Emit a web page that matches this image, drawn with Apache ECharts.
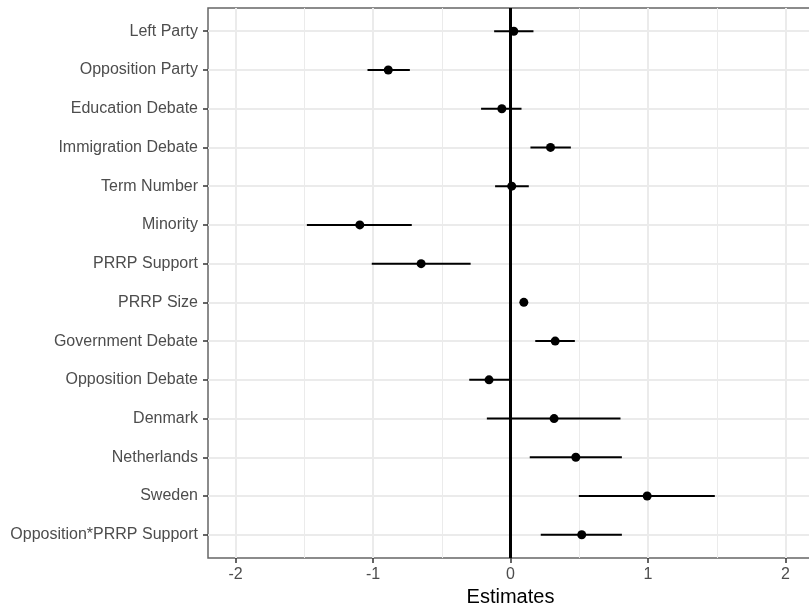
<!DOCTYPE html>
<html>
<head>
<meta charset="utf-8">
<script src="https://cdn.jsdelivr.net/npm/echarts@6/dist/echarts.min.js"></script>
<style>
html,body{margin:0;padding:0;background:#fff;}
#chart{width:809px;height:607px;}
</style>
</head>
<body>
<div id="chart"></div>
<script>
const categories = [
  'Left Party', 'Opposition Party', 'Education Debate', 'Immigration Debate',
  'Term Number', 'Minority', 'PRRP Support', 'PRRP Size', 'Government Debate',
  'Opposition Debate', 'Denmark', 'Netherlands', 'Sweden', 'Opposition*PRRP Support'
];
const estimates = [0.024, -0.889, -0.063, 0.291, 0.009, -1.096, -0.650, 0.097, 0.325, -0.156, 0.317, 0.475, 0.994, 0.518];
const lower =     [-0.119, -1.040, -0.214, 0.145, -0.112, -1.481, -1.009, 0.080, 0.180, -0.300, -0.172, 0.140, 0.497, 0.220];
const upper =     [0.167, -0.732, 0.080, 0.439, 0.133, -0.718, -0.290, 0.114, 0.468, -0.007, 0.800, 0.810, 1.486, 0.810];
const xTicks = [-2, -1, 0, 1, 2];
const xMinor = [-1.5, -0.5, 0.5, 1.5];
const xTitle = 'Estimates';

const rowIdx = categories.map((c, i) => i);
const FONT = '"Liberation Sans", Arial, sans-serif';

const chart = echarts.init(document.getElementById('chart'), null, {renderer: 'canvas'});
chart.setOption({
  animation: false,
  backgroundColor: '#ffffff',
  grid: {
    left: 208, right: -4, top: 8, bottom: 49,
    outerBoundsMode: 'none', containLabel: false,
    show: true, borderColor: '#666666', borderWidth: 1.5, backgroundColor: 'transparent'
  },
  xAxis: {
    type: 'value', min: -2.2, max: 2.2,
    name: xTitle, nameLocation: 'middle', nameGap: 28,
    nameTextStyle: {fontSize: 20, color: '#000000', fontFamily: FONT},
    axisLine: {show: false, onZero: false},
    axisTick: {show: true, length: 5, customValues: xTicks, lineStyle: {color: '#333333', width: 1.5}},
    axisLabel: {customValues: xTicks, fontSize: 16, color: '#4D4D4D', fontFamily: FONT, margin: 9,
      formatter: v => String(v)},
    splitLine: {show: true, lineStyle: {color: '#EBEBEB', width: 2}}
  },
  yAxis: {
    type: 'value', min: -0.6, max: 13.6, inverse: true,
    axisLine: {show: false, onZero: false},
    axisTick: {show: true, length: 5, customValues: rowIdx, lineStyle: {color: '#333333', width: 1.5}},
    axisLabel: {customValues: rowIdx, fontSize: 16, color: '#4D4D4D', fontFamily: FONT, margin: 10,
      formatter: v => categories[Math.round(v)] || ''},
    splitLine: {show: true, lineStyle: {color: '#EBEBEB', width: 2}}
  },
  series: [
    {
      type: 'line', data: [], z: 0, silent: true,
      markLine: {
        z: 0, silent: true, symbol: 'none', label: {show: false},
        lineStyle: {color: '#EBEBEB', width: 1, type: 'solid'},
        data: xMinor.map(v => ({xAxis: v}))
      }
    },
    {
      type: 'line', data: [], z: 1, silent: true,
      markLine: {
        z: 1, silent: true, symbol: 'none', label: {show: false},
        lineStyle: {color: '#000000', width: 3, type: 'solid'},
        data: [{xAxis: 0}]
      }
    },
    {
      type: 'custom', z: 2, silent: true,
      data: categories.map((c, i) => [lower[i], upper[i], i]),
      encode: {x: [0, 1], y: 2},
      renderItem: function (params, api) {
        const p1 = api.coord([api.value(0), api.value(2)]);
        const p2 = api.coord([api.value(1), api.value(2)]);
        return {
          type: 'line',
          shape: {x1: p1[0], y1: p1[1], x2: p2[0], y2: p2[1]},
          style: {stroke: '#000000', lineWidth: 2}
        };
      }
    },
    {
      type: 'scatter', z: 3, silent: true,
      symbol: 'circle', symbolSize: 9,
      itemStyle: {color: '#000000', opacity: 1},
      data: categories.map((c, i) => [estimates[i], i])
    }
  ]
});
</script>
</body>
</html>
